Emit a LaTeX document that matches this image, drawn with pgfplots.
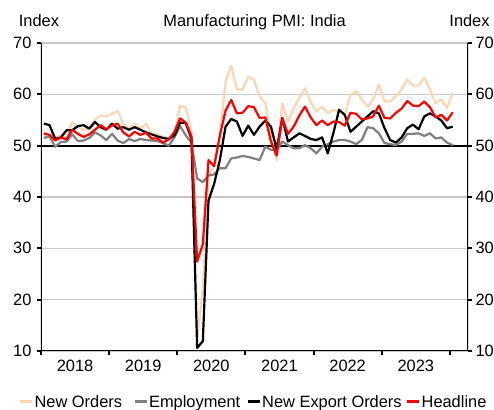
\documentclass[border=0pt]{standalone}
\usepackage{fontspec}
\setmainfont{Liberation Sans}
\usepackage{pgfplots}
\pgfplotsset{compat=1.18}
\usepackage{pgfplotstable}
\definecolor{peach}{RGB}{252,213,181}
\definecolor{empgray}{RGB}{128,128,128}
\definecolor{gridgray}{RGB}{200,200,200}
\newcommand{\fs}{\fontsize{16.4}{19.7}\selectfont}

\pgfplotstableread{
x no emp exp head
0.5 52.0 51.5 54.3 52.4
1.5 51.6 51.8 54.0 52.1
2.5 51.6 49.8 51.3 51.0
3.5 52.0 50.7 51.6 51.6
4.5 51.5 50.8 53.0 51.2
5.5 54.6 52.2 53.0 53.1
6.5 53.6 50.9 53.8 52.3
7.5 53.0 51.0 54.0 51.7
8.5 53.6 51.5 53.3 52.2
9.5 55.0 52.6 54.6 53.1
10.5 55.9 52.0 53.6 54.0
11.5 55.7 51.1 53.1 53.2
12.5 56.2 52.3 54.3 53.9
13.5 56.8 51.0 53.3 54.3
14.5 54.3 50.5 53.6 52.6
15.5 53.3 51.3 53.1 51.8
16.5 54.3 50.9 53.6 52.7
17.5 53.3 51.3 53.1 52.1
18.5 54.3 51.1 52.6 52.5
19.5 52.3 51.0 52.2 51.4
20.5 52.3 50.9 51.8 51.4
21.5 51.6 50.5 51.5 50.6
22.5 51.5 50.0 51.3 51.2
23.5 52.0 51.6 52.0 52.7
24.5 57.8 53.8 54.5 55.3
25.5 57.4 52.0 54.4 54.5
26.5 52.8 50.6 51.3 51.8
27.5 12.3 43.6 10.6 27.4
28.5 22.0 42.9 11.9 30.8
29.5 44.0 44.2 39.3 47.2
30.5 46.2 44.4 42.6 46.0
31.5 51.8 45.6 47.2 52.0
32.5 62.5 45.6 53.7 56.8
33.5 65.5 47.5 55.2 58.9
34.5 61.0 47.7 54.7 56.3
35.5 60.9 48.0 51.9 56.4
36.5 63.4 47.8 53.9 57.7
37.5 62.9 47.5 52.1 57.5
38.5 59.6 47.2 53.7 55.4
39.5 58.3 49.8 54.9 55.5
40.5 51.8 49.2 53.7 50.8
41.5 47.2 49.2 49.3 48.1
42.5 58.3 50.8 55.4 55.3
43.5 54.7 50.1 50.8 52.3
44.5 57.3 49.5 51.6 53.7
45.5 59.3 49.5 52.4 55.9
46.5 61.2 50.1 51.9 57.6
47.5 58.5 49.5 51.3 55.5
48.5 56.7 48.5 51.1 54.0
49.5 57.6 49.8 51.6 54.9
50.5 56.3 50.3 48.5 54.0
51.5 57.0 50.8 52.5 54.7
52.5 56.7 51.1 57.0 54.6
53.5 56.0 51.1 56.0 53.9
54.5 59.9 50.8 52.7 56.4
55.5 60.6 50.3 53.7 56.2
56.5 59.0 51.1 54.7 55.1
57.5 57.6 53.6 55.7 55.3
58.5 59.0 53.4 56.7 55.7
59.5 61.9 52.4 56.3 57.8
60.5 58.6 50.5 53.4 55.4
61.5 58.6 50.3 51.1 55.3
62.5 59.6 50.1 50.6 56.4
63.5 60.9 50.8 51.6 57.2
64.5 62.9 52.3 53.4 58.7
65.5 61.7 52.3 54.1 57.8
66.5 61.7 52.4 53.2 57.7
67.5 63.2 51.9 55.7 58.6
68.5 60.9 52.4 56.3 57.5
69.5 58.3 51.4 55.7 55.5
70.5 59.0 51.6 54.9 56.0
71.5 57.3 50.6 53.4 54.9
72.5 60.3 50.1 53.7 56.5
}\pmi

\begin{document}
\begin{tikzpicture}
\begin{axis}[
  name=main, at={(0,0)}, anchor=south west,
  scale only axis, width=427pt, height=308pt,
  xmin=0, xmax=75.2, ymin=10, ymax=70,
  axis line style={draw=none},
  ytick={10,20,...,70}, ytick pos=left,
  xtick={0,12,...,72}, xticklabels={}, xtick pos=left,
  extra x ticks={6,18,30,42,54,66},
  extra x tick labels={2018,2019,2020,2021,2022,2023},
  extra x tick style={major tick length=0pt, xticklabel style={yshift=-6pt}},
  tick align=outside, major tick length=4pt,
  tick style={black, line width=2pt},
  ymajorgrids, major grid style={color=gridgray, line width=1.5pt},
  extra y ticks={50}, extra y tick labels={},
  extra y tick style={major grid style={black, line width=2.2pt}},
  ticklabel style={font=\fs},
  yticklabel style={xshift=-2pt},
  /pgf/number format/assume math mode=true,
  legend columns=4,
  legend style={at={(0.5,0)}, anchor=north, yshift=-43pt, xshift=-1.5pt,
    draw=none, fill=none, font=\fs, inner sep=0pt,
    nodes={inner xsep=1pt, inner ysep=1pt},
    /tikz/column 1/.style={column sep=0pt},
    /tikz/column 2/.style={column sep=10pt},
    /tikz/column 3/.style={column sep=0pt},
    /tikz/column 4/.style={column sep=5pt},
    /tikz/column 5/.style={column sep=0pt},
    /tikz/column 6/.style={column sep=3pt},
    /tikz/column 7/.style={column sep=0pt}},
  legend cell align=left,
  legend image code/.code={\draw[#1, line width=3pt] (0pt,0pt) -- (12pt,0pt);},
]
\addplot[peach, line width=2.2pt, line join=round] table[x=x,y=no]{\pmi};
\addlegendentry{New Orders}
\addplot[empgray, line width=2.2pt, line join=round] table[x=x,y=emp]{\pmi};
\addlegendentry{Employment}
\addplot[black, line width=2.2pt, line join=round] table[x=x,y=exp]{\pmi};
\addlegendentry{New Export Orders}
\addplot[red, line width=2.2pt, line join=round] table[x=x,y=head]{\pmi};
\addlegendentry{Headline}
\draw[black, line width=2.2pt] (rel axis cs:0,1) -- (rel axis cs:0,0) -- (rel axis cs:1,0) -- (rel axis cs:1,1);
\end{axis}
\begin{axis}[
  at={(0,0)}, anchor=south west,
  scale only axis, width=427pt, height=308pt,
  xmin=0, xmax=75.2, ymin=10, ymax=70,
  hide x axis, axis line style={draw=none},
  ytick={10,20,...,70}, ytick pos=right, yticklabel pos=right,
  tick align=outside, major tick length=4pt,
  tick style={black, line width=2pt},
  ticklabel style={font=\fs},
  /pgf/number format/assume math mode=true,
]
\end{axis}
\node[anchor=base, font=\fs] at ([yshift=16pt]main.north) {Manufacturing PMI: India};
\node[anchor=base, font=\fs] at ([yshift=16pt, xshift=-2pt]main.north west) {Index};
\node[anchor=base, font=\fs] at ([yshift=16pt, xshift=1.5pt]main.north east) {Index};
\pgfresetboundingbox
\path ([xshift=-41pt,yshift=-59pt]main.south west) rectangle ([xshift=26pt,yshift=43pt]main.north east);
\end{tikzpicture}
\end{document}
